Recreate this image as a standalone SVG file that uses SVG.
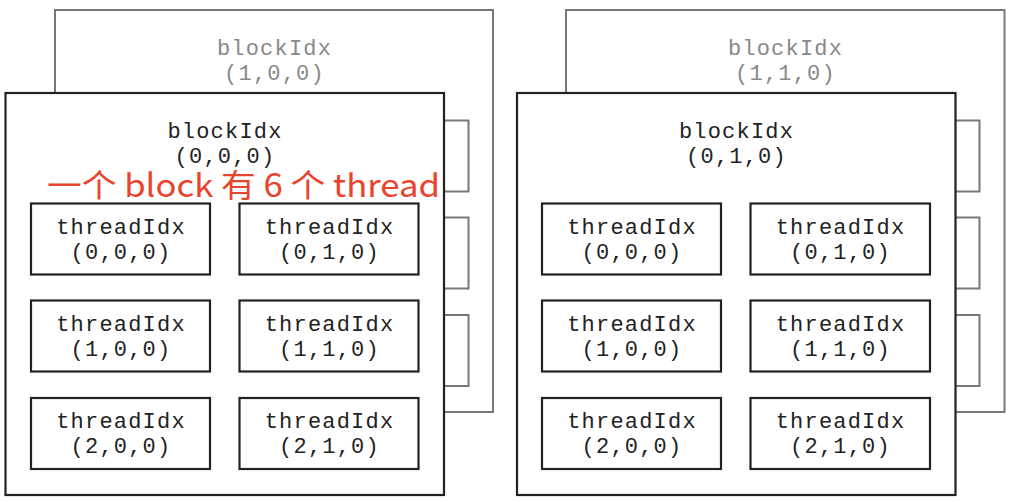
<svg xmlns="http://www.w3.org/2000/svg" width="1012" height="502" viewBox="0 0 1012 502">
<style>
.back{fill:#fff;stroke:#777;stroke-width:2}
.front{fill:#fff;stroke:#222;stroke-width:2.2}
.tb{fill:#fff;stroke:#222;stroke-width:2.2}
.mono{font-family:"Liberation Mono","DejaVu Sans Mono",monospace;font-size:22px;letter-spacing:1.2px;text-anchor:middle}
.dk{fill:#222}
.gr{fill:#888}
.note{font-family:"Noto Sans CJK SC","Noto Sans",sans-serif;font-size:32px;font-weight:400;fill:#e8432c}
</style>
<rect width="1012" height="502" fill="#fff"/>

<g id="block-1-0-0">
<rect class="back" x="55" y="10" width="438" height="402"/>
<text class="mono gr" x="274.5" y="54.5">blockIdx</text>
<text class="mono gr" x="274.5" y="80">(1,0,0)</text>
<rect class="back" x="289.5" y="120.5" width="179" height="71"/>
<rect class="back" x="289.5" y="217.5" width="179" height="71"/>
<rect class="back" x="289.5" y="315" width="179" height="71"/>
</g>

<g id="block-1-1-0">
<rect class="back" x="566" y="10" width="438.5" height="402"/>
<text class="mono gr" x="785.5" y="54.5">blockIdx</text>
<text class="mono gr" x="785.5" y="80">(1,1,0)</text>
<rect class="back" x="800.5" y="120.5" width="179" height="71"/>
<rect class="back" x="800.5" y="217.5" width="179" height="71"/>
<rect class="back" x="800.5" y="315" width="179" height="71"/>
</g>

<g id="block-0-0-0">
<rect class="front" x="5.5" y="93" width="438.5" height="402"/>
<text class="mono dk" x="225" y="138">blockIdx</text>
<text class="mono dk" x="225" y="162.5">(0,0,0)</text>
</g>
<g id="t-a-000"><rect class="tb" x="31" y="203.5" width="179" height="71"/><text class="mono dk" x="121" y="233.5">threadIdx</text><text class="mono dk" x="121" y="258.5">(0,0,0)</text></g>
<g id="t-a-010"><rect class="tb" x="239.5" y="203.5" width="179" height="71"/><text class="mono dk" x="329.5" y="233.5">threadIdx</text><text class="mono dk" x="329.5" y="258.5">(0,1,0)</text></g>
<g id="t-a-100"><rect class="tb" x="31" y="300.5" width="179" height="71"/><text class="mono dk" x="121" y="330.5">threadIdx</text><text class="mono dk" x="121" y="355.5">(1,0,0)</text></g>
<g id="t-a-110"><rect class="tb" x="239.5" y="300.5" width="179" height="71"/><text class="mono dk" x="329.5" y="330.5">threadIdx</text><text class="mono dk" x="329.5" y="355.5">(1,1,0)</text></g>
<g id="t-a-200"><rect class="tb" x="31" y="398" width="179" height="71"/><text class="mono dk" x="121" y="428">threadIdx</text><text class="mono dk" x="121" y="453">(2,0,0)</text></g>
<g id="t-a-210"><rect class="tb" x="239.5" y="398" width="179" height="71"/><text class="mono dk" x="329.5" y="428">threadIdx</text><text class="mono dk" x="329.5" y="453">(2,1,0)</text></g>

<g id="block-0-1-0">
<rect class="front" x="517" y="93" width="438.5" height="402"/>
<text class="mono dk" x="736.5" y="138">blockIdx</text>
<text class="mono dk" x="736.5" y="162.5">(0,1,0)</text>
</g>
<g id="t-b-000"><rect class="tb" x="542" y="203.5" width="179" height="71"/><text class="mono dk" x="632" y="233.5">threadIdx</text><text class="mono dk" x="632" y="258.5">(0,0,0)</text></g>
<g id="t-b-010"><rect class="tb" x="750.5" y="203.5" width="179.5" height="71"/><text class="mono dk" x="840.5" y="233.5">threadIdx</text><text class="mono dk" x="840.5" y="258.5">(0,1,0)</text></g>
<g id="t-b-100"><rect class="tb" x="542" y="300.5" width="179" height="71"/><text class="mono dk" x="632" y="330.5">threadIdx</text><text class="mono dk" x="632" y="355.5">(1,0,0)</text></g>
<g id="t-b-110"><rect class="tb" x="750.5" y="300.5" width="179.5" height="71"/><text class="mono dk" x="840.5" y="330.5">threadIdx</text><text class="mono dk" x="840.5" y="355.5">(1,1,0)</text></g>
<g id="t-b-200"><rect class="tb" x="542" y="398" width="179" height="71"/><text class="mono dk" x="632" y="428">threadIdx</text><text class="mono dk" x="632" y="453">(2,0,0)</text></g>
<g id="t-b-210"><rect class="tb" x="750.5" y="398" width="179.5" height="71"/><text class="mono dk" x="840.5" y="428">threadIdx</text><text class="mono dk" x="840.5" y="453">(2,1,0)</text></g>

<g id="connectors"></g>

<g id="annotation">
<text class="note" x="47" y="197" textLength="393" lengthAdjust="spacingAndGlyphs">一个 block 有 6 个 thread</text>
</g>
</svg>
